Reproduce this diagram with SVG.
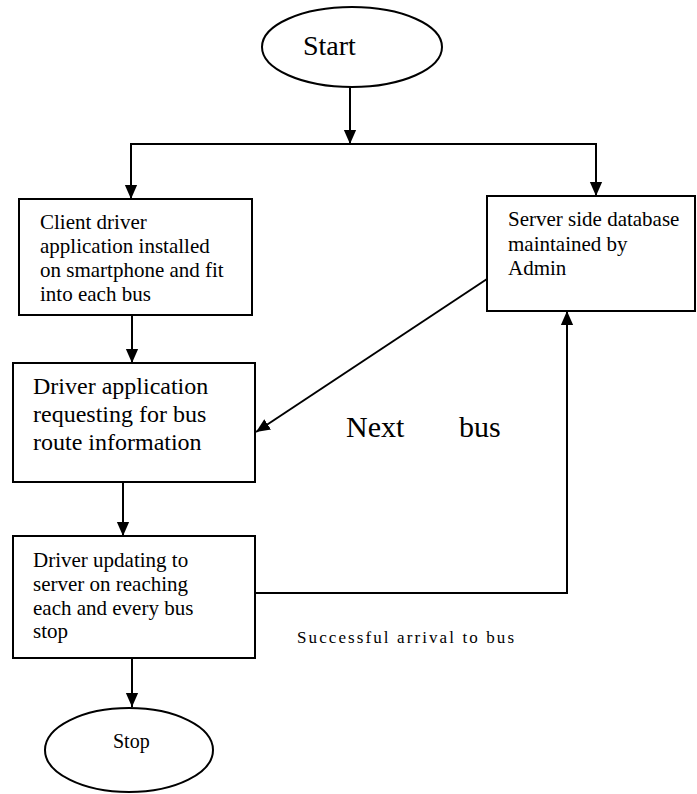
<svg xmlns="http://www.w3.org/2000/svg" width="697" height="794" viewBox="0 0 697 794">
<style>
.s{fill:#fff;stroke:#000;stroke-width:2}
.c{fill:none;stroke:#000;stroke-width:2}
</style>
<defs>
<marker id="ah" markerWidth="14" markerHeight="16" refX="16" refY="7" viewBox="0 0 16 14" orient="auto" markerUnits="userSpaceOnUse">
<path d="M0,0 L16,7 L0,14 Z" fill="#000"/>
</marker>
</defs>
<rect width="697" height="794" fill="#fff"/>
<g id="connectors">
<line class="c" x1="350" y1="87" x2="350" y2="144" marker-end="url(#ah)"/>
<polyline class="c" points="131,199 131,144 596,144 596,196" marker-end="url(#ah)"/>
<line class="c" x1="131" y1="144" x2="131" y2="199" marker-end="url(#ah)"/>
<line class="c" x1="132" y1="315" x2="132" y2="363" marker-end="url(#ah)"/>
<line class="c" x1="487" y1="279" x2="256" y2="432" marker-end="url(#ah)"/>
<line class="c" x1="123" y1="482" x2="123" y2="536" marker-end="url(#ah)"/>
<polyline class="c" points="255,593 567,593 567,311" marker-end="url(#ah)"/>
<line class="c" x1="132" y1="658" x2="132" y2="707" marker-end="url(#ah)"/>
</g>
<g id="start">
<ellipse class="s" cx="352" cy="47" rx="90" ry="40"/>
<text x="303" y="55" font-family="'Liberation Serif', serif" font-size="28">Start</text>
</g>
<g id="client">
<rect class="s" x="19" y="199" width="233" height="116"/>
<text x="40" y="229" font-family="'Liberation Serif', serif" font-size="21">Client driver</text>
<text x="40" y="253" font-family="'Liberation Serif', serif" font-size="21">application installed</text>
<text x="40" y="277" font-family="'Liberation Serif', serif" font-size="21">on smartphone and fit</text>
<text x="40" y="301" font-family="'Liberation Serif', serif" font-size="21">into each bus</text>
</g>
<g id="server">
<rect class="s" x="487" y="196" width="208" height="115"/>
<text x="508" y="226" font-family="'Liberation Serif', serif" font-size="21">Server side database</text>
<text x="508" y="251" font-family="'Liberation Serif', serif" font-size="21">maintained by</text>
<text x="508" y="275" font-family="'Liberation Serif', serif" font-size="21">Admin</text>
</g>
<g id="request">
<rect class="s" x="13" y="363" width="242" height="119"/>
<text x="33" y="394" font-family="'Liberation Serif', serif" font-size="24">Driver application</text>
<text x="33" y="422" font-family="'Liberation Serif', serif" font-size="24">requesting for bus</text>
<text x="33" y="450" font-family="'Liberation Serif', serif" font-size="24">route information</text>
</g>
<g id="update">
<rect class="s" x="13" y="536" width="242" height="122"/>
<text x="33" y="567" font-family="'Liberation Serif', serif" font-size="21">Driver updating to</text>
<text x="33" y="591" font-family="'Liberation Serif', serif" font-size="21">server on reaching</text>
<text x="33" y="615" font-family="'Liberation Serif', serif" font-size="21">each and every bus</text>
<text x="33" y="638" font-family="'Liberation Serif', serif" font-size="21">stop</text>
</g>
<g id="stop">
<ellipse class="s" cx="129" cy="750" rx="84" ry="42"/>
<text x="113" y="748" font-family="'Liberation Serif', serif" font-size="20">Stop</text>
</g>
<g id="labels">
<text x="346" y="437" font-family="'Liberation Serif', serif" font-size="30">Next</text>
<text x="459" y="437" font-family="'Liberation Serif', serif" font-size="30">bus</text>
<text x="297" y="643" font-family="'Liberation Serif', serif" font-size="17" textLength="217" lengthAdjust="spacing">Successful arrival to bus</text>
</g>
</svg>
